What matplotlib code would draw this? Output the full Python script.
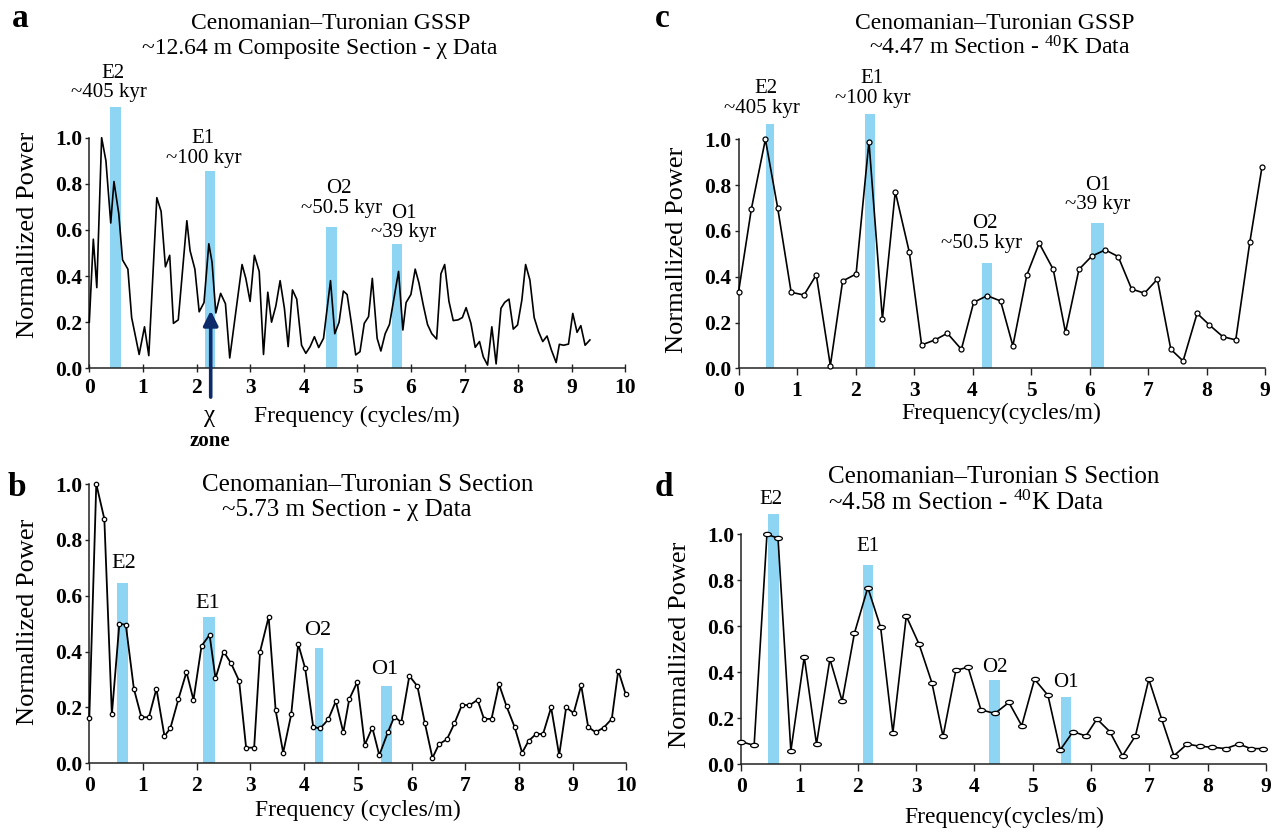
import matplotlib
matplotlib.use("Agg")
import matplotlib.pyplot as plt
from matplotlib.path import Path
from matplotlib.markers import MarkerStyle
from matplotlib.transforms import Affine2D

plt.rcParams["font.family"] = ["Liberation Serif", "DejaVu Serif"]
plt.rcParams["mathtext.fontset"] = "custom"
plt.rcParams["mathtext.rm"] = "Liberation Serif"
plt.rcParams["mathtext.it"] = "Liberation Serif:italic"
plt.rcParams["mathtext.bf"] = "Liberation Serif:bold"

# ---------------- data ----------------
# (a) GSSP composite section, magnetic susceptibility spectrum
a_freq = [0.00, 0.075, 0.14, 0.23, 0.31, 0.40, 0.46, 0.55, 0.62, 0.72,
          0.79, 0.93, 1.03, 1.11, 1.26, 1.34, 1.42, 1.50, 1.57, 1.66,
          1.82, 1.88, 1.97, 2.05, 2.14, 2.23, 2.29, 2.36, 2.45, 2.54,
          2.62, 2.85, 2.92, 3.00, 3.08, 3.17, 3.25, 3.33, 3.40, 3.48,
          3.56, 3.64, 3.71, 3.79, 3.87, 3.96, 4.04, 4.12, 4.20, 4.28,
          4.37, 4.50, 4.58, 4.66, 4.74, 4.81, 4.89, 4.97, 5.05, 5.13,
          5.21, 5.28, 5.37, 5.44, 5.52, 5.60, 5.77, 5.85, 5.91, 6.00,
          6.08, 6.15, 6.23, 6.31, 6.39, 6.48, 6.56, 6.63, 6.71, 6.79,
          6.88, 6.96, 7.03, 7.12, 7.20, 7.28, 7.35, 7.43, 7.51, 7.59,
          7.68, 7.75, 7.83, 7.91, 7.99, 8.07, 8.14, 8.22, 8.30, 8.38,
          8.46, 8.54, 8.62, 8.71, 8.77, 8.85, 8.94, 9.02, 9.10, 9.17,
          9.25, 9.34]
a_power = [0.20, 0.56, 0.35, 1.00, 0.90, 0.63, 0.81, 0.67, 0.47, 0.43,
           0.22, 0.06, 0.18, 0.055, 0.74, 0.68, 0.44, 0.49, 0.195, 0.21,
           0.64, 0.51, 0.43, 0.245, 0.285, 0.54, 0.46, 0.24, 0.325, 0.28,
           0.045, 0.45, 0.39, 0.29, 0.49, 0.42, 0.06, 0.33, 0.20, 0.27,
           0.38, 0.26, 0.094, 0.34, 0.30, 0.10, 0.065, 0.094, 0.137, 0.09,
           0.13, 0.38, 0.15, 0.20, 0.335, 0.32, 0.195, 0.058, 0.072, 0.195,
           0.224, 0.39, 0.13, 0.075, 0.15, 0.19, 0.42, 0.166, 0.285, 0.32,
           0.43, 0.37, 0.275, 0.19, 0.15, 0.127, 0.41, 0.45, 0.29, 0.207,
           0.21, 0.22, 0.263, 0.195, 0.091, 0.116, 0.05, 0.014, 0.18, 0.019,
           0.26, 0.286, 0.30, 0.17, 0.188, 0.296, 0.45, 0.383, 0.22, 0.16,
           0.116, 0.14, 0.08, 0.025, 0.104, 0.10, 0.105, 0.238, 0.156, 0.185,
           0.10, 0.123]
a_band_lo = [0.38, 2.16, 4.42, 5.65]
a_band_hi = [0.59, 2.35, 4.62, 5.83]
a_band_top = [1.134, 0.855, 0.614, 0.537]
a_band_name = ["E2", "E1", "O2", "O1"]
a_band_period = ["~405 kyr", "~100 kyr", "~50.5 kyr", "~39 kyr"]
chi_zone_freq = 2.265

# (b) S section, magnetic susceptibility spectrum
b_freq = [0.00, 0.13, 0.28, 0.42, 0.56, 0.68, 0.83, 0.97, 1.11, 1.25,
          1.40, 1.51, 1.66, 1.81, 1.94, 2.09, 2.24, 2.35, 2.50, 2.64,
          2.79, 2.92, 3.07, 3.18, 3.34, 3.47, 3.61, 3.76, 3.89, 4.02,
          4.17, 4.30, 4.45, 4.59, 4.73, 4.84, 4.99, 5.13, 5.27, 5.40,
          5.56, 5.68, 5.81, 5.96, 6.11, 6.25, 6.39, 6.51, 6.66, 6.80,
          6.94, 7.08, 7.23, 7.35, 7.49, 7.63, 7.77, 7.92, 8.06, 8.18,
          8.32, 8.45, 8.60, 8.75, 8.88, 9.02, 9.16, 9.29, 9.43, 9.58,
          9.73, 9.85, 9.99]
b_power = [0.161, 1.0, 0.875, 0.175, 0.50, 0.496, 0.267, 0.165, 0.165, 0.267,
           0.097, 0.126, 0.23, 0.327, 0.227, 0.42, 0.46, 0.304, 0.40, 0.358,
           0.295, 0.056, 0.056, 0.40, 0.524, 0.19, 0.038, 0.175, 0.427, 0.34,
           0.13, 0.125, 0.157, 0.222, 0.111, 0.229, 0.291, 0.066, 0.128, 0.029,
           0.111, 0.167, 0.147, 0.313, 0.276, 0.143, 0.019, 0.068, 0.086, 0.143,
           0.209, 0.208, 0.227, 0.159, 0.159, 0.283, 0.204, 0.13, 0.038, 0.08,
           0.105, 0.105, 0.20, 0.029, 0.20, 0.18, 0.279, 0.13, 0.111, 0.128,
           0.159, 0.332, 0.247]
b_band_lo = [0.51, 2.11, 4.20, 5.43]
b_band_hi = [0.72, 2.34, 4.36, 5.63]
b_band_top = [0.646, 0.524, 0.413, 0.277]

# (c) GSSP section, 40K spectrum
c_freq = [0.00, 0.22, 0.46, 0.67, 0.90, 1.12, 1.33, 1.57, 1.78, 2.01,
          2.23, 2.46, 2.68, 2.92, 3.13, 3.36, 3.57, 3.81, 4.02, 4.25,
          4.48, 4.69, 4.93, 5.14, 5.38, 5.59, 5.82, 6.04, 6.27, 6.49,
          6.72, 6.94, 7.16, 7.39, 7.60, 7.84, 8.05, 8.28, 8.50, 8.74,
          8.95]
c_power = [0.332, 0.696, 1.0, 0.70, 0.332, 0.32, 0.408, 0.012, 0.381, 0.412,
           0.99, 0.215, 0.771, 0.507, 0.102, 0.124, 0.153, 0.083, 0.288, 0.317,
           0.294, 0.098, 0.408, 0.546, 0.432, 0.157, 0.432, 0.49, 0.517, 0.488,
           0.346, 0.328, 0.389, 0.083, 0.032, 0.24, 0.189, 0.138, 0.124, 0.55,
           0.881]
c_band_lo = [0.47, 2.16, 4.17, 6.03]
c_band_hi = [0.60, 2.34, 4.33, 6.24]
c_band_top = [1.068, 1.112, 0.461, 0.636]

# (d) S section, 40K spectrum
d_freq = [0.00, 0.22, 0.44, 0.63, 0.85, 1.08, 1.29, 1.52, 1.73, 1.94,
          2.17, 2.39, 2.60, 2.83, 3.05, 3.27, 3.46, 3.68, 3.89, 4.11,
          4.35, 4.59, 4.81, 5.03, 5.26, 5.47, 5.69, 5.91, 6.10, 6.32,
          6.54, 6.76, 6.99, 7.21, 7.42, 7.65, 7.86, 8.08, 8.31, 8.53,
          8.74, 8.95]
d_power = [0.097, 0.081, 1.0, 0.983, 0.057, 0.466, 0.087, 0.457, 0.274, 0.569,
           0.768, 0.595, 0.136, 0.644, 0.521, 0.353, 0.12, 0.408, 0.421, 0.236,
           0.22, 0.268, 0.167, 0.369, 0.299, 0.061, 0.141, 0.122, 0.196, 0.141,
           0.036, 0.122, 0.369, 0.196, 0.036, 0.087, 0.077, 0.073, 0.067, 0.087,
           0.067, 0.067]
d_band_lo = [0.46, 2.09, 4.25, 5.48]
d_band_hi = [0.65, 2.26, 4.43, 5.65]
d_band_top = [1.09, 0.865, 0.366, 0.293]

y_ticks = [0.0, 0.2, 0.4, 0.6, 0.8, 1.0]

# ---------------- figure ----------------
W, H = 1281, 833
fig = plt.figure(figsize=(W / 100, H / 100), dpi=100)
BAND = "#8dd5f3"
NAVY = "#0d2b6b"
SPINE = "#222222"
YLAB_SIZE = 19


def fx(px):
    return px / W


def fy(py):
    return 1 - py / H


def make_axes(x0, xunit, xmax, y0, yunit, ymax, xtick_dir="out"):
    ax = fig.add_axes([x0 / W, 1 - y0 / H, xmax * xunit / W, ymax * yunit / H])
    ax.set_xlim(0, xmax)
    ax.set_ylim(0, ymax)
    ax.patch.set_alpha(0)
    for s in ("top", "right"):
        ax.spines[s].set_visible(False)
    for s in ("left", "bottom"):
        ax.spines[s].set_color(SPINE)
        ax.spines[s].set_linewidth(1.1)
    ax.spines["left"].set_bounds(0, 1.0)
    ax.spines["bottom"].set_bounds(0, xmax)
    ax.set_xticks(range(0, int(xmax) + 1))
    ax.set_yticks(y_ticks)
    ax.set_yticklabels([f"{v:.1f}" for v in y_ticks])
    ax.tick_params(axis="x", direction=xtick_dir, length=5.5 if xtick_dir == "inout" else 5,
                   width=1.0, color=SPINE, pad=4, labelsize=15.5)
    ax.tick_params(axis="y", direction="out", length=3, width=1.0, color=SPINE,
                   pad=2, labelsize=15.5)
    for lab in ax.get_xticklabels() + ax.get_yticklabels():
        lab.set_fontweight("bold")
    return ax


def bands(ax, lo, hi, top):
    widths = [h - l for l, h in zip(lo, hi)]
    ax.bar(lo, top, width=widths, align="edge", color=BAND, zorder=1,
           linewidth=0, clip_on=False)


def ftext(px, py, s, size, ha="center", va="baseline", weight="normal", **kw):
    fig.text(fx(px), fy(py), s, fontsize=size, ha=ha, va=va, fontweight=weight, **kw)


# ---- panel a ----
ax_a = make_axes(89.3, 53.6, 10, 368.3, 230.6, 1.2, xtick_dir="inout")
bands(ax_a, a_band_lo, a_band_hi, a_band_top)
ax_a.plot(a_freq, a_power, color="black", lw=1.2, zorder=3, clip_on=False)
ax_a.annotate("", xy=(chi_zone_freq, 0.25), xytext=(chi_zone_freq, -0.125),
              xycoords="data", annotation_clip=False,
              arrowprops=dict(arrowstyle="-|>", color=NAVY, lw=2.6,
                              mutation_scale=22, shrinkA=0, shrinkB=0), zorder=4)
ftext(11.7, 26.7, "a", 24, ha="left", weight="bold")
ftext(331, 29.3, "Cenomanian\u2013Turonian GSSP", 17)
ftext(320, 54.3, "~12.64 m Composite Section - \u03c7 Data", 17)
a_lab_px = [(113, 78.3, 109, 97.3), (202.5, 143.3, 203.5, 162.7),
            (339, 192.7, 341.5, 212.7), (404, 217.7, 404, 236.7)]
for (nx, ny, px_, py_), nm, per in zip(a_lab_px, a_band_name, a_band_period):
    ftext(nx, ny, nm, 15)
    ftext(px_, py_, per, 15)
ftext(210, 416, "\u03c7", 18, va="center")
ftext(210, 441, "zone", 15, va="center", weight="bold")
ftext(357, 416, "Frequency (cycles/m)", 17, va="center")
ftext(28, 235, "Normallized Power", YLAB_SIZE, va="center", rotation=90)

# ---- panel b ----
ax_b = make_axes(89.3, 53.7, 10, 763.3, 279.3, 1.05)
bands(ax_b, b_band_lo, b_band_hi, b_band_top)
ax_b.plot(b_freq, b_power, color="black", lw=1.3, zorder=3, clip_on=False,
          marker="o", ms=3.2, mfc="white", mec="black", mew=0.9)
ftext(8, 496, "b", 24, ha="left", weight="bold")
ftext(201.7, 491, "Cenomanian\u2013Turonian S Section", 18, ha="left")
ftext(221.7, 516, "~5.73 m Section - \u03c7 Data", 18, ha="left")
b_lab_px = [(124, 567.7), (207.5, 607.7), (318, 635), (385, 674)]
for (nx, ny), nm in zip(b_lab_px, a_band_name):
    ftext(nx, ny, nm, 16)
ftext(358, 810, "Frequency (cycles/m)", 17, va="center")
ftext(28, 622, "Normallized Power", YLAB_SIZE, va="center", rotation=90)

# ---- panel c ----
ax_c = make_axes(738.5, 58.5, 9, 368.3, 229.0, 1.15)
bands(ax_c, c_band_lo, c_band_hi, c_band_top)
ax_c.plot(c_freq, c_power, color="black", lw=1.2, zorder=3, clip_on=False,
          marker="o", ms=3.6, mfc="white", mec="black", mew=0.9)
ftext(655, 26.7, "c", 24, ha="left", weight="bold")
ftext(995, 29.3, "Cenomanian\u2013Turonian GSSP", 17)
ftext(1000, 54.3, "~4.47 m Section - $^{40}$K Data", 17)
c_lab_px = [(766, 93.3, 762, 112.7), (872, 83.4, 872.5, 102.7),
            (985, 228.3, 981.5, 248.3), (1098, 190, 1097.5, 209.3)]
for (nx, ny, px_, py_), nm, per in zip(c_lab_px, a_band_name, a_band_period):
    ftext(nx, ny, nm, 15)
    ftext(px_, py_, per, 15)
ftext(1001.5, 413, "Frequency(cycles/m)", 17, va="center")
ftext(677, 250, "Normallized Power", YLAB_SIZE, va="center", rotation=90)

# ---- panel d ----
ax_d = make_axes(741.3, 58.3, 9, 764.0, 229.7, 1.12)
bands(ax_d, d_band_lo, d_band_hi, d_band_top)
ellipse = MarkerStyle(Affine2D().scale(1.0, 0.55).transform_path(Path.unit_circle()))
ax_d.plot(d_freq, d_power, color="black", lw=1.2, zorder=3, clip_on=False,
          marker=ellipse, ms=5.6, mfc="white", mec="black", mew=0.9)
ftext(655, 496, "d", 24, ha="left", weight="bold")
ftext(828, 483.3, "Cenomanian\u2013Turonian S Section", 18, ha="left")
ftext(828, 510, "~4.58 m Section - $^{40}$K Data", 18, ha="left")
d_lab_px = [(771, 504.3), (868, 551), (995, 671.7), (1065.7, 687.3)]
for (nx, ny), nm in zip(d_lab_px, a_band_name):
    ftext(nx, ny, nm, 15)
ftext(1004, 817, "Frequency(cycles/m)", 17, va="center")
ftext(680, 645, "Normallized Power", YLAB_SIZE, va="center", rotation=90)

fig.savefig("out.png", dpi=100)
